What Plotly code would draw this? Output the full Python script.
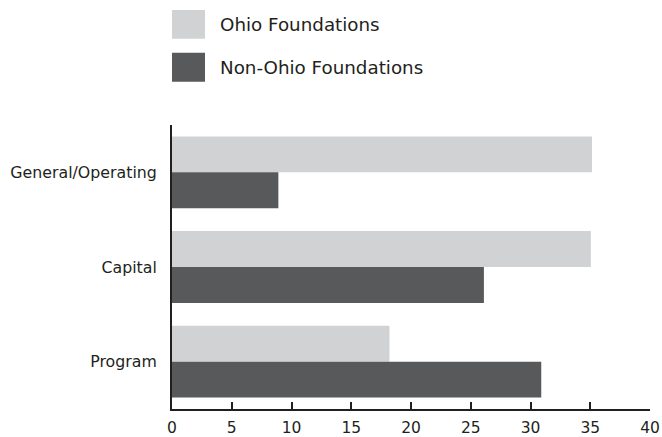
import plotly.graph_objects as go

categories = ["General/Operating", "Capital", "Program"]
series_names = ["Ohio Foundations", "Non-Ohio Foundations"]
ohio_values = [35.15, 35.05, 18.2]
non_ohio_values = [8.9, 26.1, 30.9]
x_ticks = [0, 5, 10, 15, 20, 25, 30, 35, 40]

colors = ["#d1d2d4", "#58595b"]
FONT = "DejaVu Sans"

fig = go.Figure()
for name, vals, col in zip(series_names, [ohio_values, non_ohio_values], colors):
    fig.add_trace(go.Bar(
        y=categories, x=vals, name=name, orientation="h",
        marker=dict(color=col, line=dict(width=0)),
    ))

W, H = 662, 437
L, R, T, B = 172, 12, 124.5, 27.5

fig.update_layout(
    width=W, height=H,
    margin=dict(l=L, r=R, t=T, b=B, autoexpand=False),
    paper_bgcolor="white", plot_bgcolor="white",
    barmode="group", bargap=0.242, bargroupgap=0,
    showlegend=False,
    font=dict(family=FONT, size=16, color="#231f20"),
    xaxis=dict(
        range=[0, 40], tickvals=x_ticks, ticktext=[str(v) for v in x_ticks],
        showgrid=False, zeroline=False,
        showline=True, linecolor="#231f20", linewidth=2,
        ticks="inside", ticklen=7, tickwidth=2, tickcolor="#231f20",
        ticklabelstandoff=3,
        tickfont=dict(family=FONT, size=15.5, color="#231f20"),
        fixedrange=True,
    ),
    yaxis=dict(
        autorange="reversed",
        showgrid=False, zeroline=False,
        showline=True, linecolor="#231f20", linewidth=2,
        ticks="", ticklabelstandoff=10,
        tickfont=dict(family=FONT, size=15.8, color="#231f20"),
        fixedrange=True,
    ),
)

# legend drawn as boxes + text
leg_y = [(9, 38), (52, 81)]
for (y0, y1), name, col in zip(leg_y, series_names, colors):
    fig.add_shape(type="rect", xref="paper", yref="paper",
                  x0=(172 - L) / (W - L - R), x1=(205 - L) / (W - L - R),
                  y0=1 + (T - y0) / (H - T - B), y1=1 + (T - y1) / (H - T - B),
                  fillcolor=col, line=dict(width=0))
    fig.add_annotation(xref="paper", yref="paper",
                       x=(218 - L) / (W - L - R), y=1 + (T - (y0 + y1) / 2) / (H - T - B),
                       xanchor="left", yanchor="middle", showarrow=False,
                       text=name, font=dict(family=FONT, size=18.3, color="#231f20"))

fig.write_html(
    "out.html",
    config={"displayModeBar": False, "staticPlot": True},
    post_script="document.body.style.margin='0';document.body.style.padding='0';document.body.style.overflow='hidden';",
)
